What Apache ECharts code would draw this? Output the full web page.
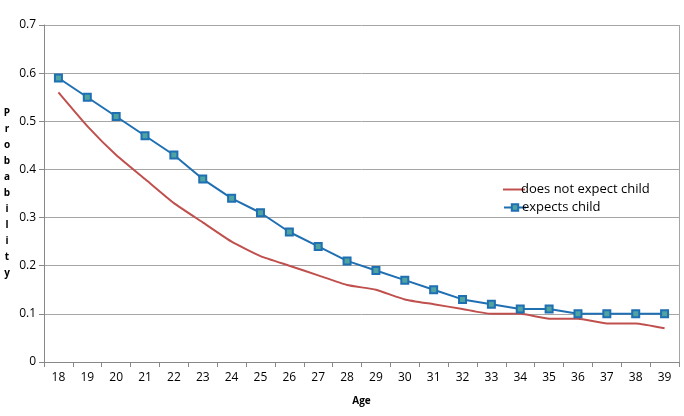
<!DOCTYPE html>
<html><head><meta charset="utf-8">
<script src="https://cdn.jsdelivr.net/npm/echarts@6/dist/echarts.min.js"></script>
<style>html,body{margin:0;padding:0;background:#fff}#c{width:684px;height:416px}</style>
</head><body><div id="c"></div>
<script>
const ages = ['18','19','20','21','22','23','24','25','26','27','28','29','30','31','32','33','34','35','36','37','38','39'];
const notExpect = [0.56,0.49,0.43,0.38,0.33,0.29,0.25,0.22,0.20,0.18,0.16,0.15,0.13,0.12,0.11,0.10,0.10,0.09,0.09,0.08,0.08,0.07];
const expects = [0.59,0.55,0.51,0.47,0.43,0.38,0.34,0.31,0.27,0.24,0.21,0.19,0.17,0.15,0.13,0.12,0.11,0.11,0.10,0.10,0.10,0.10];
const yTicks = [0,0.1,0.2,0.3,0.4,0.5,0.6,0.7];
const chart = echarts.init(document.getElementById('c'));
const font = 'Open Sans, Noto Sans, sans-serif';
const legTxt = {fontFamily:font,fontSize:13,color:'#000',padding:[0,0,0,-9]};
chart.setOption({
  animation:false,
  grid:{left:44,right:5,top:25,bottom:54},
  legend:[
    {left:498, top:178, itemWidth:22, itemHeight:2, icon:'rect',
     textStyle:legTxt, data:['does not expect child']},
    {left:498, top:196, itemWidth:22, itemHeight:8,
     textStyle:legTxt, data:['expects child']}
  ],
  xAxis:{
    type:'category', data:ages, boundaryGap:true,
    name:'Age', nameLocation:'middle', nameGap:34,
    nameTextStyle:{fontFamily:font,fontSize:10,fontWeight:'bold',color:'#000'},
    axisLine:{lineStyle:{color:'#888'}},
    axisTick:{show:true,length:5,lineStyle:{color:'#888'}},
    axisLabel:{fontFamily:font,fontSize:12,color:'#000',margin:10}
  },
  yAxis:{
    type:'value', min:0, max:0.7, interval:0.1,
    name:'P\nr\no\nb\na\nb\ni\nl\ni\nt\ny', nameLocation:'middle', nameRotate:0, nameGap:37,
    nameTextStyle:{fontFamily:font,fontSize:10,fontWeight:'bold',color:'#000',lineHeight:16,align:'center'},
    axisLine:{show:true,lineStyle:{color:'#888'}},
    axisTick:{show:true,length:5,lineStyle:{color:'#888'}},
    splitLine:{lineStyle:{color:'#a6a6a6'}},
    axisLabel:{fontFamily:font,fontSize:12,color:'#000',margin:8,
      formatter:v=>{const t=yTicks.find(x=>Math.abs(x-v)<1e-9);return t===0?'0':String(t);}}
  },
  graphic:[{type:'line',shape:{x1:679.5,y1:25,x2:679.5,y2:362},style:{stroke:'#a6a6a6',lineWidth:1}}],
  series:[
    {name:'does not expect child',type:'line',data:notExpect,showSymbol:false,symbol:'none',smooth:0.15,
     lineStyle:{color:'#c0504d',width:2},itemStyle:{color:'#c0504d'}},
    {name:'expects child',type:'line',data:expects,symbol:'rect',symbolSize:7,
     lineStyle:{color:'#1f6fb3',width:2},itemStyle:{color:'#4fa3a0',borderColor:'#1f6fb3',borderWidth:2}}
  ]
});
</script></body></html>
